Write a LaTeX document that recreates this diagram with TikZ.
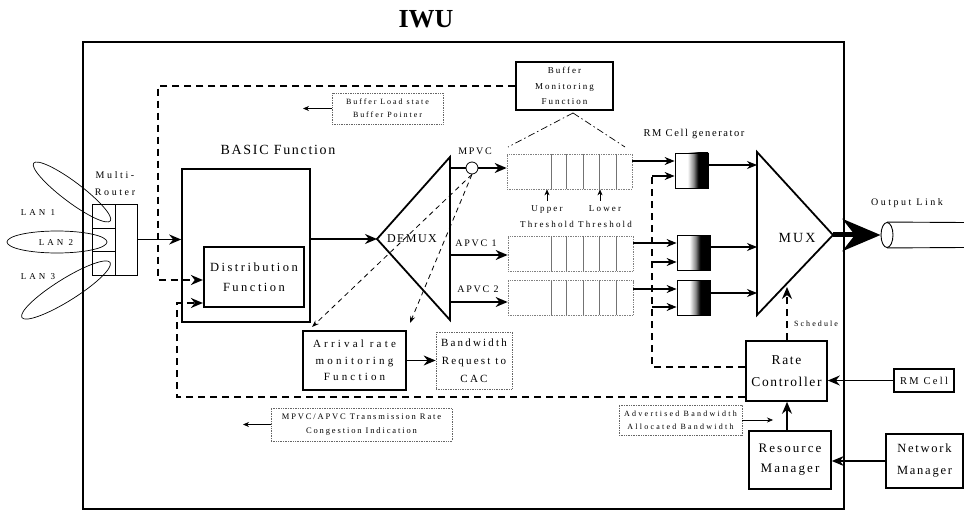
\documentclass[tikz,border=0pt]{standalone}
\usepackage{fontspec}
\setmainfont{Liberation Serif}
\usetikzlibrary{arrows.meta,shapes.geometric}
\newcommand\fsz[2]{\fontsize{#1}{#2}\selectfont}
\newcommand\lsp[1]{\addfontfeature{LetterSpace=#1}}
\pgfdeclarehorizontalshading{rmshade}{100bp}{color(0bp)=(white); color(44bp)=(white); color(53bp)=(black!45); color(60bp)=(black); color(100bp)=(black)}
\begin{document}
\begin{tikzpicture}[x=1pt,y=-1pt,
  box/.style={draw, inner sep=0pt, align=center},
  cell/.style={draw, line width=0.9pt, minimum width=23pt, inner sep=0pt},
  gbox/.style={draw=black!60, densely dotted, line width=0.7pt, inner sep=0pt, align=center},
  qbox/.style={draw=black!50, densely dotted, line width=0.7pt, minimum width=125pt, minimum height=35pt, inner sep=0pt},
  divl/.style={draw=black!55, line width=0.6pt},
  rmgen/.style={draw, line width=0.8pt, shade, shading=rmshade, minimum width=33pt, minimum height=35pt, inner sep=0pt},
  arr/.style={line width=1.4pt, -{Stealth[length=12pt,width=10pt]}},
  arrc/.style={line width=1.1pt, -{Stealth[length=10pt,width=8pt]}},
  sarr/.style={line width=0.6pt, -{Stealth[length=6pt,width=5pt]}},
  fb/.style={line width=2pt, dash pattern=on 7pt off 5pt},
  fbarr/.style={fb, -{Stealth[length=12pt,width=10pt]}},
  thd/.style={line width=0.8pt, dash pattern=on 5pt off 4pt, -{Stealth[length=7pt,width=5pt]}},
  dd/.style={line width=0.7pt, dash pattern=on 7pt off 3pt on 1.5pt off 3pt},
  lbl/.style={inner sep=0pt, align=center}
]
\useasboundingbox (0,0) rectangle (964,513);

% title and outer box
\node[lbl, font=\bfseries\fsz{26}{28}] (title) at (426,19) {IWU};
\node[draw, line width=1.8pt, minimum width=761pt, minimum height=467pt, inner sep=0pt] (iwu) at (463.5,275.5) {};

% multi-router
\node[cell, minimum height=24pt] (r1) at (103.5,216) {};
\node[cell, minimum height=23pt] (r2) at (103.5,239.5) {};
\node[cell, minimum height=24pt] (r3) at (103.5,263) {};
\node[draw, line width=0.9pt, minimum width=22pt, minimum height=71pt, inner sep=0pt] (rr) at (126,239.5) {};
\node[lbl, font=\fsz{10}{17}\lsp{26}] (mr) at (115,184) {Multi-\\Router};

% LANs
\draw[line width=0.7pt, rotate around={-37:(72,192)}] (72,192) ellipse [x radius=48, y radius=10];
\draw[line width=0.7pt] (57,242) ellipse [x radius=50, y radius=11];
\draw[line width=0.7pt, rotate around={32:(66,290)}] (66,290) ellipse [x radius=52, y radius=11];
\node[lbl, font=\fsz{9}{11}\lsp{33}] (lan1) at (38,213) {LAN 1};
\node[lbl, font=\fsz{9}{11}\lsp{33}] (lan2) at (56,243) {LAN 2};
\node[lbl, font=\fsz{9}{11}\lsp{33}] (lan3) at (38,277) {LAN 3};

% BASIC function
\node[lbl, font=\fsz{14}{16}\lsp{12}] (basicl) at (278,150) {BASIC Function};
\node[box, line width=1.6pt, minimum width=128pt, minimum height=153pt] (basic) at (246,245.5) {};
\node[box, line width=2.2pt, minimum width=100pt, minimum height=60pt, font=\fsz{12.5}{20}\lsp{20}] (dist) at (254,277) {Distribution\\Function};

% DEMUX
\coordinate (dmL) at (377,239);
\coordinate (dmT) at (450,157);
\coordinate (dmB) at (450,320);
\draw[line width=1.8pt, line join=miter] (dmL) -- (dmT) -- (dmB) -- cycle;
\node[lbl, font=\fsz{12}{14}\lsp{12}] (dml) at (412,239) {DEMUX};
\draw[arr] (rr.east) -- (basic.west |- rr.east);
\draw[arr] (basic.east |- dmL) -- (dmL);

% queues
\node[qbox] (q1) at (569.5,171.5) {};
\node[qbox] (q2) at (570.5,253.5) {};
\node[qbox] (q3) at (570.5,298) {};
\foreach \xx in {551,566,583,599,616} {
  \draw[divl] (\xx,154) -- (\xx,189);
  \draw[divl] (\xx,236) -- (\xx,271);
  \draw[divl] (\xx,281) -- (\xx,315);
}

% MPVC / APVC
\coordinate (dmMP) at (450,168);
\coordinate (dmA1) at (450,255);
\coordinate (dmA2) at (450,302);
\node[draw, circle, line width=0.8pt, minimum size=12pt, inner sep=0pt] (mp) at (472,168) {};
\draw[line width=1.4pt] (dmMP) -- (mp.west);
\draw[arr] (mp.east) -- (q1.west |- mp.east);
\draw[arr] (dmA1) -- (q2.west |- dmA1);
\draw[arr] (dmA2) -- (q3.west |- dmA2);
\node[lbl, font=\fsz{10}{12}\lsp{17}] (mpl) at (475,151) {MPVC};
\node[lbl, font=\fsz{10}{12}\lsp{18}] (a1l) at (476,243) {APVC 1};
\node[lbl, font=\fsz{10}{12}\lsp{18}] (a2l) at (478,289) {APVC 2};

% thresholds
\coordinate (upA) at (547,201);
\coordinate (loA) at (600,201);
\draw[sarr] (upA) -- (upA |- q1.south);
\draw[sarr] (loA) -- (loA |- q1.south);
\node[lbl, font=\fsz{9}{16}\lsp{24}] (upl) at (547,217) {Upper\\Threshold};
\node[lbl, font=\fsz{9}{16}\lsp{24}] (lol) at (605,217) {Lower\\Threshold};

% buffer monitoring
\node[box, line width=1.4pt, minimum width=97pt, minimum height=48pt, font=\fsz{9}{15.5}\lsp{22}] (bmf) at (564.5,86) {Buffer\\Monitoring\\Function};
\coordinate (bmfc) at (573,113);
\coordinate (ddl) at (508,147);
\coordinate (ddr) at (625,147);
\draw[dd] (bmfc) -- (ddl);
\draw[dd] (bmfc) -- (ddr);

% buffer load state
\node[gbox, minimum width=111pt, minimum height=31pt, font=\fsz{8}{13}\lsp{24}] (bls) at (387.5,108.5) {Buffer Load state\\Buffer Pointer};
\coordinate (blsT) at (303,108.5);
\draw[sarr] (bls.west) -- (blsT);

% RM cell generators
\node[rmgen] (g1) at (691.5,170.5) {};
\node[rmgen] (g2) at (693.5,253) {};
\node[rmgen] (g3) at (693.5,297.5) {};
\node[lbl, font=\fsz{10.5}{12}\lsp{15}] (rmgl) at (694,134) {RM Cell generator};
\coordinate (q1o) at (632,161);
\coordinate (q2o) at (633,243);
\coordinate (q3o) at (633,289);
\draw[arrc] (q1o) -- (q1o -| g1.west);
\draw[arrc] (q2o) -- (q2o -| g2.west);
\draw[arrc] (q3o) -- (q3o -| g3.west);

% MUX
\coordinate (muxT) at (757,152);
\coordinate (muxB) at (757,315);
\coordinate (muxR) at (833,235);
\draw[line width=1.8pt, line join=miter] (muxT) -- (muxR) -- (muxB) -- cycle;
\node[lbl, font=\fsz{14}{16}\lsp{15}] (muxl) at (797,238) {MUX};
\coordinate (g1o) at (708,165);
\coordinate (g2o) at (710,247);
\coordinate (g3o) at (710,293);
\draw[arrc] (g1o) -- (g1o -| muxT);
\draw[arrc] (g2o) -- (g2o -| muxT);
\draw[arrc] (g3o) -- (g3o -| muxT);

% output link
\node[draw, ellipse, line width=0.9pt, minimum width=12pt, minimum height=25pt, inner sep=0pt] (cyl) at (887,235) {};
\coordinate (cylT) at (964,222.5);
\coordinate (cylB) at (964,247.5);
\draw[line width=0.9pt] (cyl.north) -- (cylT);
\draw[line width=0.9pt] (cyl.south) -- (cylB);
\node[lbl, font=\fsz{10}{12}\lsp{25}] (outl) at (907,203) {Output Link};
\draw[line width=5pt, -{Stealth[length=38pt,width=32pt]}] (muxR) -- (cyl.west);

% rate controller etc.
\node[box, line width=1.6pt, minimum width=81pt, minimum height=60pt, font=\fsz{13.5}{22}\lsp{12}] (rc) at (786.5,371) {Rate\\Controller};
\node[box, line width=1.2pt, minimum width=60pt, minimum height=23pt, font=\fsz{10.5}{12}\lsp{22}] (rmc) at (924,380.5) {RM Cell};
\node[box, line width=1.6pt, minimum width=82pt, minimum height=58pt, font=\fsz{13}{20}\lsp{16}] (resm) at (790,460) {Resource\\Manager};
\node[box, line width=1.2pt, minimum width=77pt, minimum height=54pt, font=\fsz{12.5}{22}\lsp{14}] (netm) at (924.5,461) {Network\\Manager};
\draw[arr] (rmc.west) -- (rmc.west -| rc.east);
\coordinate (resmT) at (787,431);
\draw[arr] (resmT) -- (resmT |- rc.south);
\draw[arr] (netm.west) -- (netm.west -| resm.east);

\node[gbox, minimum width=123pt, minimum height=30pt, font=\fsz{8}{13}\lsp{28}] (adv) at (680.5,420) {Advertised Bandwidth\\Allocated Bandwidth};
\coordinate (advT) at (773,420);
\draw[sarr] (adv.east) -- (advT);

% schedule
\coordinate (schT) at (787,287);
\draw[fbarr] (rc.north -| schT) -- (schT);
\node[lbl, font=\fsz{8}{10}\lsp{26}] (schl) at (816,324) {Schedule};

% arrival rate and bandwidth request
\node[box, line width=1.8pt, minimum width=103pt, minimum height=59pt, font=\fsz{11}{16.5}\lsp{29}] (arrv) at (354.5,360.5) {Arrival rate\\monitoring\\Function};
\node[gbox, minimum width=76pt, minimum height=57pt, font=\fsz{11}{18}\lsp{20}] (bw) at (474,360.5) {Bandwidth\\Request to\\CAC};
\draw[arr] (arrv.east) -- (bw.west);

% transmission rate
\node[gbox, minimum width=181pt, minimum height=33pt, font=\fsz{8.5}{14}\lsp{22}] (tr) at (361.5,424.5) {MPVC/APVC Transmission Rate\\Congestion Indication};
\coordinate (trT) at (243,424.5);
\draw[sarr] (tr.west) -- (trT);

% feedback dashed lines
\coordinate (fbA) at (158,86);
\coordinate (fbB) at (158,280);
\draw[fbarr] (bmf.west) -- (fbA) -- (fbB) -- (fbB -| dist.west);
\coordinate (fb2a) at (177,397);
\coordinate (fb2b) at (177,303);
\draw[fbarr] (rc.west |- fb2a) -- (fb2a) -- (fb2b) -- (fb2b -| dist.west);
\coordinate (fb3a) at (652,367);
\coordinate (fb3b) at (652,176);
\coordinate (fb3c) at (652,262);
\coordinate (fb3d) at (652,307);
\draw[fb] (rc.west |- fb3a) -- (fb3a) -- (fb3b);
\draw[arrc] (fb3b) -- (fb3b -| g1.west);
\draw[arrc] (fb3c) -- (fb3c -| g2.west);
\draw[arrc] (fb3d) -- (fb3d -| g3.west);

% thin dashed to arrival monitor
\coordinate (tdA) at (312,327);
\coordinate (tdB) at (410,323);
\draw[thd] (mp.south) -- (tdA);
\draw[thd] (mp.south) -- (tdB);
\end{tikzpicture}
\end{document}
